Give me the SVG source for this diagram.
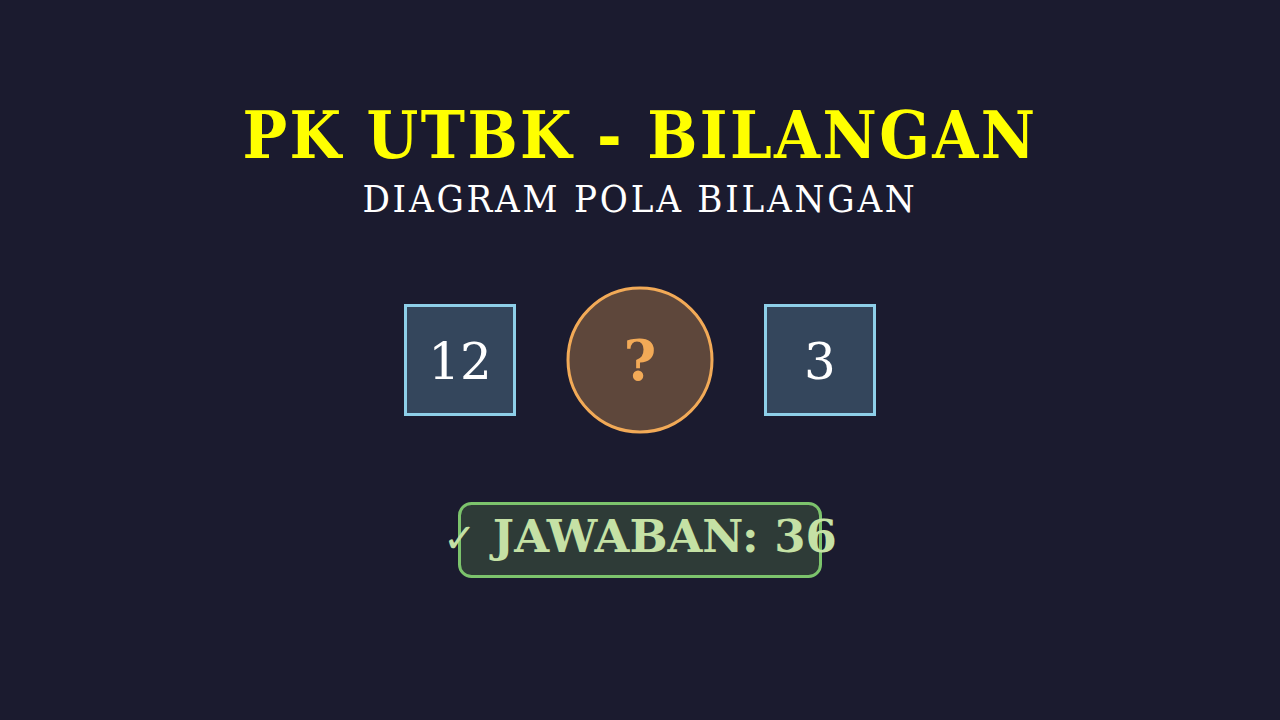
<svg xmlns="http://www.w3.org/2000/svg" width="1280" height="720" viewBox="0 0 1280 720">
<style>
.t{font-family:"DejaVu Serif",serif;text-anchor:middle}
.c{font-stretch:condensed}
.box{fill:#34465c;stroke:#8ecfe8;stroke-width:3}
.num{font-size:50px;fill:#ffffff}
</style>
<rect x="0" y="0" width="1280" height="720" fill="#1b1b2f"/>
<g id="title"><text class="t c" x="640" y="158" font-size="66" font-weight="bold" fill="#ffff00" letter-spacing="2.4">PK UTBK - BILANGAN</text></g>
<g id="subtitle"><text class="t c" x="640" y="212" font-size="38" fill="#ffffff" letter-spacing="2.8">DIAGRAM POLA BILANGAN</text></g>
<g id="node-12"><rect class="box" x="405.5" y="305.5" width="109" height="109"/><text class="t num" x="460" y="379">12</text></g>
<g id="node-q"><circle cx="640" cy="360" r="72" fill="#5e473b" stroke="#f2aa57" stroke-width="3"/><text class="t" x="640" y="380" font-size="56" font-weight="bold" fill="#f2aa57">?</text></g>
<g id="node-3"><rect class="box" x="765.5" y="305.5" width="109" height="109"/><text class="t num" x="820" y="379">3</text></g>
<g id="connectors"></g>
<g id="answer"><rect x="459.5" y="503.5" width="361" height="73" rx="12" fill="#2e3b37" stroke="#7cc36c" stroke-width="3"/><text class="t" x="640" y="552" font-size="45" font-weight="bold" fill="#c5e1a5"><tspan font-weight="normal" font-size="40">✓</tspan> JAWABAN: 36</text></g>
</svg>
